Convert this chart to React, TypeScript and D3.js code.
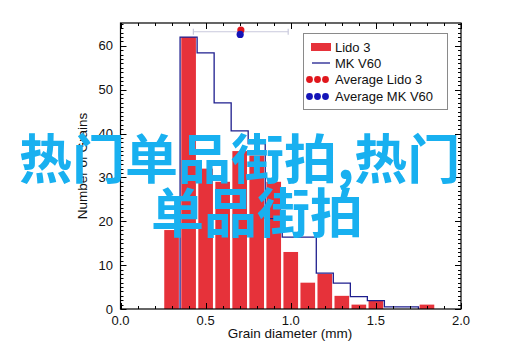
import React from 'react';
import * as d3 from 'd3';

// Lido 3 histogram (bar centres in mm, counts)
const lidoCentres = [0.3, 0.4, 0.5, 0.6, 0.7, 0.8, 0.9, 1.0, 1.1, 1.2, 1.3, 1.4, 1.5, 1.6, 1.7, 1.8];
const lidoCounts = [18, 62, 32, 29, 36, 35, 29, 13, 6, 8, 3, 1, 2, 0, 0, 1];

// MK V60 step line (bin left edges, counts)
const mkEdges = [0.35, 0.45, 0.55, 0.65, 0.75, 0.85, 0.95, 1.05, 1.15, 1.25, 1.35, 1.45, 1.55, 1.65, 1.75];
const mkCounts = [62, 58.4, 47, 40.6, 37.7, 20.6, 16.4, 16.4, 8.2, 5.9, 2.8, 1.9, 0.5, 0.5, 0];

// averages drawn at the top
const avgNames = ['Average Lido 3', 'Average MK V60'];
const avgMeans = [0.707, 0.703];
const avgLevels = [63.6, 62.6];
const avgColors = ['#e0161c', '#1414b8'];
const errLow = 0.428;
const errHigh = 0.985;
const errLevel = 63.2;

const xTickLabels = ['0.0', '0.5', '1.0', '1.5', '2.0'];
const yTickValues = [0, 10, 20, 30, 40, 50, 60];

const W = 515;
const H = 359;
const plot = { left: 120.5, right: 461, top: 23, bottom: 309 };
const font = '"Liberation Sans", Arial, sans-serif';
const red = '#e6323a';
const navy = '#1e1e8e';

export default function App() {
  const x = d3.scaleLinear().domain([0, 2]).range([plot.left, plot.right]);
  const y = d3.scaleLinear().domain([0, 65.2]).range([plot.bottom, plot.top]);

  const xMinor = d3.range(0, 21).map(i => i / 10);
  const yMinor = d3.range(0, 66);

  const stepPts: [number, number][] = [[mkEdges[0], 0], ...mkEdges.map((e, i) => [e, mkCounts[i]] as [number, number])];
  const stepLine = d3.line<[number, number]>()
    .x(d => x(d[0]))
    .y(d => y(d[1]))
    .curve(d3.curveStepAfter);

  const half = 0.043;

  return (
    <svg width={W} height={H} style={{ position: 'absolute', left: 0, top: 0, background: '#fff' }}>
      <rect width={W} height={H} fill="#fff" />

      {/* bars */}
      {lidoCentres.map((c, i) => lidoCounts[i] > 0 && (
        <rect key={c}
          x={x(c - half)} width={x(c + half) - x(c - half)}
          y={y(lidoCounts[i])} height={y(0) - y(lidoCounts[i])}
          fill={red} />
      ))}

      {/* MK V60 step */}
      <path d={stepLine(stepPts) || ''} fill="none" stroke={navy} strokeWidth={1.3} />

      {/* averages with error bar */}
      <g stroke="#c9c9dc" strokeWidth={1.2}>
        <line x1={x(errLow)} x2={x(errHigh)} y1={y(errLevel)} y2={y(errLevel)} />
        <line x1={x(errLow)} x2={x(errLow)} y1={y(errLevel) - 3} y2={y(errLevel) + 3} />
        <line x1={x(errHigh)} x2={x(errHigh)} y1={y(errLevel) - 3} y2={y(errLevel) + 3} />
      </g>
      {avgMeans.map((m, i) => (
        <circle key={avgNames[i]} cx={x(m)} cy={y(avgLevels[i])} r={3.6} fill={avgColors[i]} />
      ))}

      {/* ticks on all four sides, pointing inward */}
      <g stroke="#000" strokeWidth={1}>
        {xMinor.map(v => {
          const major = Math.abs(v * 2 - Math.round(v * 2)) < 1e-6;
          const len = major ? 6 : 3;
          const px = Math.round(x(v)) + 0.5;
          return (
            <g key={'x' + v}>
              <line x1={px} x2={px} y1={plot.bottom} y2={plot.bottom - len} />
              <line x1={px} x2={px} y1={plot.top} y2={plot.top + len} />
            </g>
          );
        })}
        {yMinor.map(v => {
          const major = v % 10 === 0;
          const len = major ? 6 : 3;
          const py = Math.round(y(v)) + 0.5;
          return (
            <g key={'y' + v}>
              <line x1={plot.left} x2={plot.left + len} y1={py} y2={py} />
              <line x1={plot.right} x2={plot.right - len} y1={py} y2={py} />
            </g>
          );
        })}
      </g>

      {/* frame */}
      <rect x={plot.left} y={plot.top} width={plot.right - plot.left} height={plot.bottom - plot.top}
        fill="none" stroke="#000" strokeWidth={1.2} />

      {/* tick labels */}
      <g fontFamily={font} fontSize={13} fill="#111">
        {xTickLabels.map(t => (
          <text key={t} x={x(+t)} y={325} textAnchor="middle">{t}</text>
        ))}
        {yTickValues.map(v => (
          <text key={v} x={113} y={y(v) + 4.5} textAnchor="end">{v}</text>
        ))}
      </g>

      {/* axis titles */}
      <text x={290} y={338} textAnchor="middle" fontFamily={font} fontSize={13.5} fill="#111">Grain diameter (mm)</text>
      <text transform={`translate(87,${(plot.top + plot.bottom) / 2}) rotate(-90)`} textAnchor="middle"
        fontFamily={font} fontSize={13.5} fill="#111">Number of Grains</text>

      {/* legend */}
      <rect x={303.5} y={33.5} width={144} height={76} fill="#fff" stroke="#8a8a8a" strokeWidth={1} />
      <g fontFamily={font} fontSize={13} fill="#111">
        <rect x={311} y={43} width={20} height={8} fill={red} />
        <text x={335} y={51.5}>Lido 3</text>
        <line x1={312} x2={330} y1={63} y2={63} stroke={navy} strokeWidth={1.3} />
        <text x={335} y={67.5}>MK V60</text>
        {avgNames.map((n, i) => (
          <g key={n}>
            {[309.5, 317.5, 325.5].map(cx => (
              <circle key={cx} cx={cx} cy={79.5 + i * 17} r={3.4} fill={avgColors[i]} />
            ))}
            <text x={335} y={84 + i * 17}>{n}</text>
          </g>
        ))}
      </g>

      {/* overlay caption */}
      <g fontFamily='"Noto Sans CJK SC", sans-serif' fontWeight={700} fontSize={53} fill="#18b0f0">
        <text x={19} y={179}>热门单品街拍,热门</text>
        <text x={151} y={233}>单品街拍</text>
      </g>
    </svg>
  );
}
